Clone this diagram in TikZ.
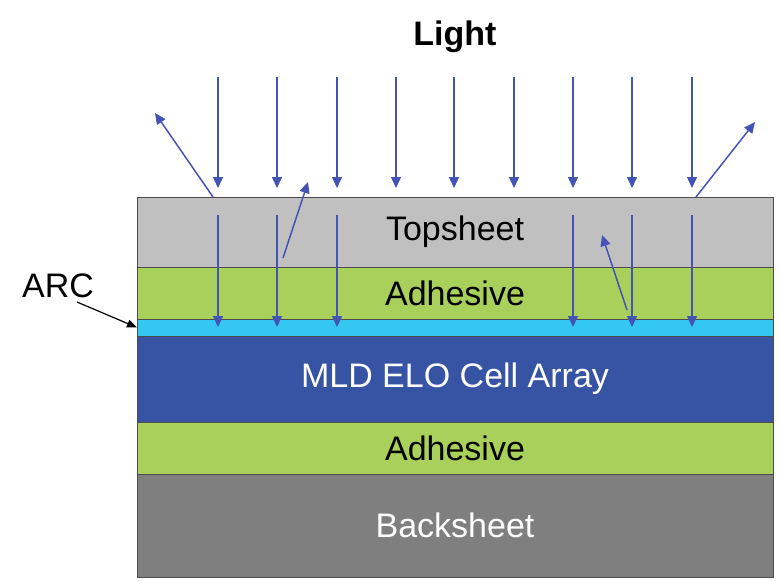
\documentclass[tikz,border=0pt]{standalone}
\usepackage{fontspec}
\setmainfont{Liberation Sans}
\usepackage{tikz}
\usetikzlibrary{arrows.meta, positioning}

\definecolor{topgray}{RGB}{192,192,192}
\definecolor{glue}{RGB}{169,208,90}
\definecolor{arccyan}{RGB}{51,199,242}
\definecolor{cellblue}{RGB}{54,83,164}
\definecolor{backgray}{RGB}{127,127,127}
\definecolor{ray}{RGB}{68,84,180}

\tikzset{
  layer/.style={draw=black!70, line width=0.4pt, minimum width=318pt, outer sep=0pt,
    inner sep=0pt, font=\fontsize{17}{20}\selectfont},
  rayarrow/.style={draw=ray, line width=0.75pt, -{Triangle[width=5pt,length=5.5pt]}},
}

\begin{document}
\begin{tikzpicture}[x=0.5pt, y=-0.5pt]
\useasboundingbox (0,0) rectangle (780,580);

% --- Layer stack ---
\node[layer, fill=topgray, minimum height=35pt] (top) at (455,232) {\raisebox{-1.5pt}{Topsheet}};
\node[layer, fill=glue, minimum height=26pt, below=0pt of top] (adhtop) {\raisebox{-1pt}{Adhesive}};
\node[layer, fill=arccyan, minimum height=8.5pt, below=0pt of adhtop] (arc) {};
\node[layer, fill=cellblue, minimum height=43pt, below=0pt of arc, text=white] (cells) {\raisebox{-2pt}{MLD ELO Cell Array}};
\node[layer, fill=glue, minimum height=26pt, below=0pt of cells] (adhbot) {\raisebox{-1pt}{Adhesive}};
\node[layer, fill=backgray, minimum height=51.5pt, below=0pt of adhbot, text=white] (back) {Backsheet};

% --- Title ---
\node[font=\fontsize{17}{20}\selectfont\bfseries] (light) at (455,37) {Light};

% --- Incoming rays ---
\foreach \x in {218,277,337,396,454,514,573,632,692} {
  \draw[rayarrow] (\x,77) -- (\x,188);
}

% transmitted rays
\foreach \x in {218,277,337,573,632,692} {
  \draw[rayarrow] (\x,215) -- (\x,327);
}

% reflected rays
\draw[rayarrow] (213,197) -- (155,113);
\draw[rayarrow] (696,197) -- (755,122);
\draw[rayarrow] (283,258) -- (308,182);
\draw[rayarrow] (627,310) -- (602,235);

% --- ARC label ---
\node[font=\fontsize{17}{20}\selectfont] (arclbl) at (58,286) {ARC};
\coordinate (arctip) at (arc.west);
\draw[black, line width=0.6pt, -{Triangle[width=4pt,length=5pt]}] (77,302) -- (arctip);

\end{tikzpicture}
\end{document}
